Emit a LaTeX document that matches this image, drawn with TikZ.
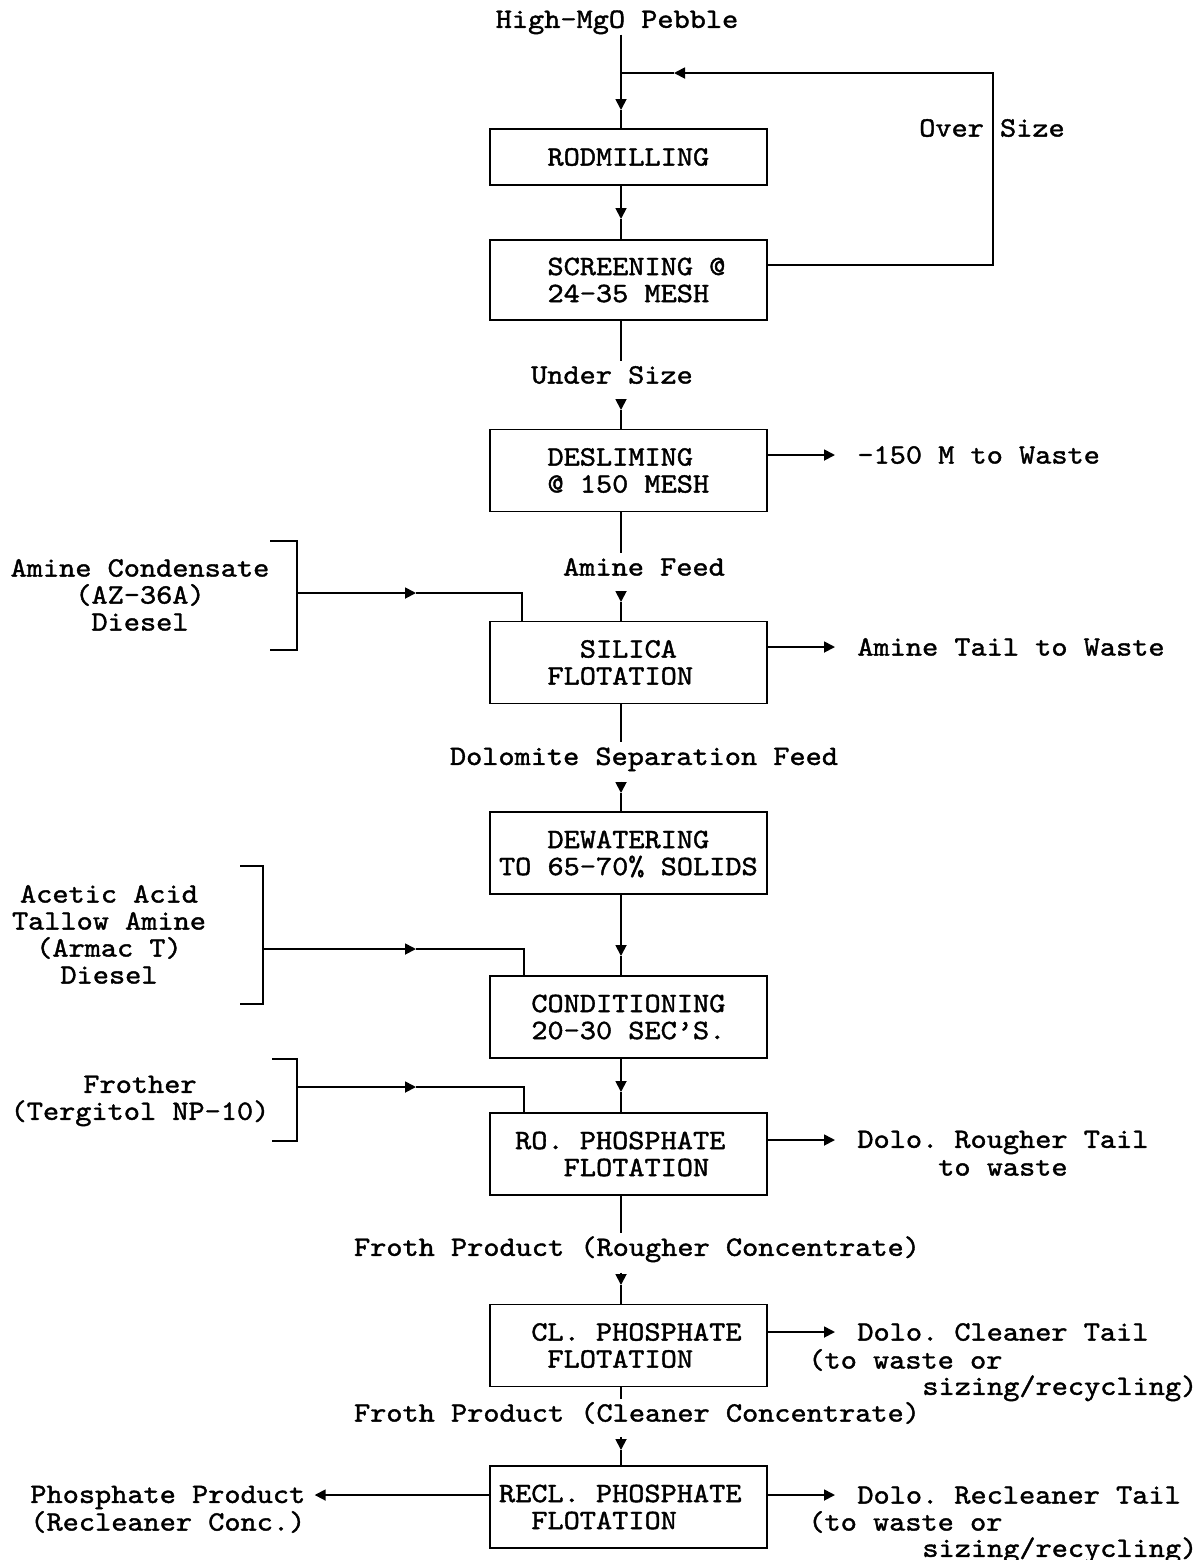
\documentclass[tikz,border=0pt]{standalone}
\usepackage{fontspec}
\usetikzlibrary{arrows.meta}
\newfontfamily\cour[FakeBold=1.4,FakeStretch=1.1]{lmmono10-regular.otf}
% fixed word spaces of one character width
\newcommand\fixspaces{\frenchspacing\spaceskip=0.5775em\relax\xspaceskip=0.5775em\relax}
\newcommand\typewriter{\cour\fontsize{14}{13.5}\selectfont\fixspaces}
% strut whose box is symmetric about the middle of the capitals
\newcommand\ls{\rule[-2.47pt]{0pt}{13.5pt}}
\newcommand\pd[1]{\hphantom{#1}}
\begin{document}
\begin{tikzpicture}[x=0.5pt,y=-0.5pt,
  every node/.style={font=\typewriter, inner sep=0pt},
  ln/.style={line width=0.9pt, line join=miter},
  flowto/.style={ln, -{Triangle[length=5.5pt,width=5.5pt]}},
  gapstart/.style={shorten <=5pt},
  proc/.style={draw, line width=0.9pt, minimum width=138.5pt, text width=129.5pt,
    inner xsep=4.5pt, inner ysep=0pt, align=flush left, minimum height=41pt,
    execute at begin node=\fixspaces},
  lab/.style={anchor=center},
  tail/.style={anchor=west},
  feed/.style={align=flush center, execute at begin node=\fixspaces}]
\useasboundingbox (0,0) rectangle (1204,1560);

% ---------- process boxes ----------
\node[proc, minimum height=28pt] (rod) at (628.5,157) {\ls\pd{000}RODMILLING};
\node[proc, minimum height=40pt] (scr) at (628.5,280) {\ls\pd{000}SCREENING @\\\ls\pd{000}24-35 MESH};
\node[proc] (desl) at (628.5,470.5) {\ls\pd{000}DESLIMING\\\ls\pd{000}@ 150 MESH};
\node[proc] (sil) at (628.5,662.5) {\ls\pd{00000}SILICA\\\ls\pd{000}FLOTATION};
\node[proc] (dew) at (628.5,853) {\ls\pd{000}DEWATERING\\\ls TO 65-70\% SOLIDS};
\node[proc] (cond) at (628.5,1017) {\ls\pd{00}CONDITIONING\\\ls\pd{00}20-30 SEC’S.};
\node[proc] (ro) at (628.5,1154) {\ls\pd{0}RO. PHOSPHATE\\\ls\pd{0000}FLOTATION};
\node[proc] (cl) at (628.5,1345.5) {\ls\pd{00}CL. PHOSPHATE\\\ls\pd{000}FLOTATION};
\node[proc] (recl) at (628.5,1507) {\ls RECL. PHOSPHATE\\\ls\pd{00}FLOTATION};

% ---------- stream labels on the main line ----------
\node[lab] (peb) at (617,20) {\ls High-MgO Pebble};
\node[lab] (over) at (992,128) {\ls Over Size};
\node[lab] (und) at (612,375) {\ls Under Size};
\node[lab] (amf) at (644,567) {\ls Amine Feed};
\node[lab] (dsf) at (644,757) {\ls Dolomite Separation Feed};
\node[lab] (frr) at (637,1248) {\ls Froth Product (Rougher Concentrate)};
\node[lab] (frc) at (637,1413) {\ls Froth Product (Cleaner Concentrate)};

% ---------- tails and product ----------
\node[tail] (dt) at (857,455) {\ls -150 M to Waste};
\node[tail] (st) at (857,647) {\ls Amine Tail to Waste};
\node[tail] (rt) at (857,1140) {\ls Dolo. Rougher Tail};
\node[tail] (rt2) at (857,1167) {\ls\pd{00000}to waste};
\node[tail] (ct) at (857,1332) {\ls Dolo. Cleaner Tail};
\node[tail] (ct2) at (808,1360) {\ls (to waste or};
\node[tail] (ct3) at (922,1387) {\ls sizing/recycling)};
\node[tail] (rct) at (857,1495) {\ls Dolo. Recleaner Tail};
\node[tail] (rct2) at (808,1522) {\ls (to waste or};
\node[tail] (rct3) at (922,1549) {\ls sizing/recycling)};
\node[tail] (ph) at (30,1495) {\ls Phosphate Product};
\node[tail] (ph2) at (30,1522) {\ls (Recleaner Conc.)};

% ---------- reagent groups ----------
\node[feed] (amc) at (140,595) {\ls Amine Condensate\\\ls (AZ-36A)\\\ls Diesel};
\node[feed] (aca) at (109,934.5) {\ls Acetic Acid\\\ls Tallow Amine\\\ls (Armac T)\\\ls Diesel};
\node[feed] (fro) at (140,1098.5) {\ls Frother\\\ls (Tergitol NP-10)};

% ---------- points on the main line ----------
\coordinate (jn) at (621,73);
\coordinate (a1) at (621,110);
\coordinate (a2) at (621,219);
\coordinate (a3) at (621,410);
\coordinate (a4) at (621,602);
\coordinate (a5) at (621,793);
\coordinate (a6) at (621,956);
\coordinate (a7) at (621,1092);
\coordinate (a8) at (621,1285);
\coordinate (a9) at (621,1450);

% main flow
\draw[ln] (peb.south -| jn) -- (jn);
\draw[flowto] (jn) -- (a1);
\draw[ln] (a1) -- (rod.north -| a1);
\draw[flowto] (rod.south -| a2) -- (a2);
\draw[ln] (a2) -- (scr.north -| a2);
\draw[ln] (scr.south -| a3) -- (und.north -| a3);
\draw[flowto, gapstart] (und.south -| a3) -- (a3);
\draw[ln] (a3) -- (desl.north -| a3);
\draw[ln] (desl.south -| a4) -- (amf.north -| a4);
\draw[flowto, gapstart] (amf.south -| a4) -- (a4);
\draw[ln] (a4) -- (sil.north -| a4);
\draw[ln] (sil.south -| a5) -- (dsf.north -| a5);
\draw[flowto, gapstart] (dsf.south -| a5) -- (a5);
\draw[ln] (a5) -- (dew.north -| a5);
\draw[flowto] (dew.south -| a6) -- (a6);
\draw[ln] (a6) -- (cond.north -| a6);
\draw[flowto] (cond.south -| a7) -- (a7);
\draw[ln] (a7) -- (ro.north -| a7);
\draw[ln] (ro.south -| a8) -- (frr.north -| a8);
\draw[flowto, gapstart] (frr.south -| a8) -- (a8);
\draw[ln] (a8) -- (cl.north -| a8);
\draw[ln] (cl.south -| a9) -- (frc.north -| a9);
\draw[flowto, gapstart] (frc.south -| a9) -- (a9);
\draw[ln] (a9) -- (recl.north -| a9);

% oversize return to the rod mill
\coordinate (ov1) at (993,265);
\coordinate (ov2) at (993,73);
\coordinate (fbt) at (674,73);
\draw[flowto] (scr.east |- ov1) -- (ov1) -- (ov2) -- (fbt);
\draw[ln] (fbt) -- (jn);

% tails
\draw[flowto, shorten >=11pt] (desl.east |- dt.west) -- (dt.west);
\draw[flowto, shorten >=11pt] (sil.east |- st.west) -- (st.west);
\draw[flowto, shorten >=11pt] (ro.east |- rt.west) -- (rt.west);
\draw[flowto, shorten >=11pt] (cl.east |- ct.west) -- (ct.west);
\draw[flowto, shorten >=11pt] (recl.east |- rct.west) -- (rct.west);
\draw[flowto, shorten >=4.5pt] (recl.west |- ph.east) -- (ph.east);

% reagent brackets and feed lines
\draw[ln] (270,541) -- (297,541) -- (297,650) -- (270,650);
\coordinate (b1) at (297,593);
\coordinate (f1) at (416,593);
\coordinate (k1) at (522,593);
\draw[flowto] (b1) -- (f1);
\draw[ln] (f1) -- (k1) -- (k1 |- sil.north);

\draw[ln] (240,866) -- (263,866) -- (263,1004) -- (240,1004);
\coordinate (b2) at (263,949);
\coordinate (f2) at (416,949);
\coordinate (k2) at (524,949);
\draw[flowto] (b2) -- (f2);
\draw[ln] (f2) -- (k2) -- (k2 |- cond.north);

\draw[ln] (272,1059) -- (297,1059) -- (297,1141) -- (272,1141);
\coordinate (b3) at (297,1087);
\coordinate (f3) at (416,1087);
\coordinate (k3) at (524,1087);
\draw[flowto] (b3) -- (f3);
\draw[ln] (f3) -- (k3) -- (k3 |- ro.north);
\end{tikzpicture}
\end{document}
